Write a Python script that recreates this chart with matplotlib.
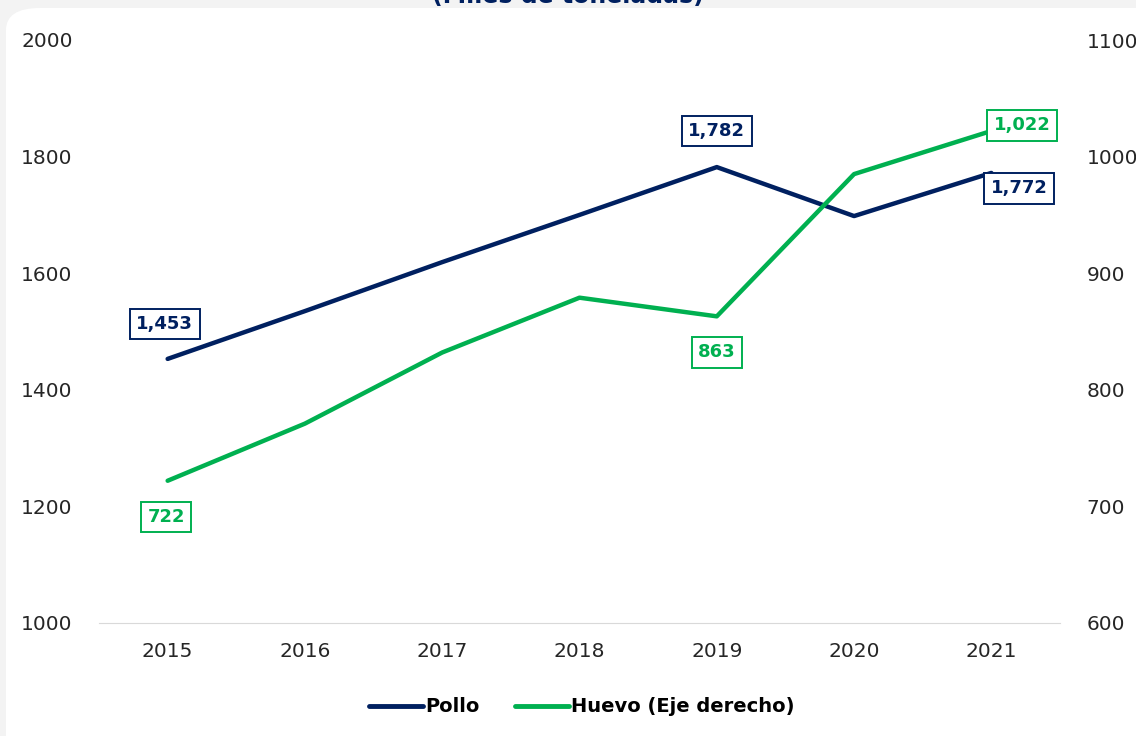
import matplotlib
matplotlib.use("Agg")
import matplotlib.pyplot as plt
from matplotlib.patches import FancyBboxPatch
from matplotlib.lines import Line2D

years = ["2015", "2016", "2017", "2018", "2019", "2020", "2021"]
pollo = [1453, 1535, 1619, 1700, 1782, 1698, 1772]
huevo = [722, 771, 832, 879, 863, 985, 1022]

navy = "#002060"
green = "#00B050"

plt.rcParams["font.family"] = ["DejaVu Sans"]

fig = plt.figure(figsize=(11.36, 7.36), dpi=100)
fig.patch.set_facecolor("#f3f3f3")

# white rounded panel behind everything
panel = FancyBboxPatch((6 / 1136, -0.05), 1.2, 1 - 8 / 736 + 0.05,
                       boxstyle="round,pad=0,rounding_size=0.03",
                       transform=fig.transFigure, facecolor="white",
                       edgecolor="none", zorder=-10)
fig.patches.append(panel)

fig.text(0.5, 1 - 3 / 736, "(Miles de toneladas)", ha="center", va="baseline",
         fontsize=17, fontweight="bold", color=navy)

ax = fig.add_axes([99 / 1136, 1 - 623 / 736, 961 / 1136, 583 / 736])
ax.patch.set_alpha(0)
ax2 = ax.twinx()
ax2.patch.set_alpha(0)

x = list(range(len(years)))
ax.plot(x, pollo, color=navy, lw=3.2, solid_capstyle="round", zorder=3)
ax2.plot(x, huevo, color=green, lw=3.2, solid_capstyle="round", zorder=3)

ax.set_xlim(-0.5, 6.5)
ax.set_ylim(1000, 2000)
ax2.set_ylim(600, 1100)
ax.set_yticks([1000, 1200, 1400, 1600, 1800, 2000])
ax2.set_yticks([600, 700, 800, 900, 1000, 1100])
ax.set_xticks(x)
ax.set_xticklabels(years)

for a in (ax, ax2):
    for s in a.spines.values():
        s.set_visible(False)
    a.tick_params(length=0, labelsize=14.5, colors="#262626")
ax.spines["bottom"].set_visible(True)
ax.spines["bottom"].set_color("#d9d9d9")
ax.tick_params(axis="x", pad=14)
ax.tick_params(axis="y", pad=56)
ax2.tick_params(axis="y", pad=19)
for lbl in ax.get_yticklabels():
    lbl.set_horizontalalignment("left")

def box(a, i, v, dx, dy, col):
    a.annotate(f"{v:,}", (i, v), xytext=(dx, dy), textcoords="offset points",
               ha="center", va="center", fontsize=13, fontweight="bold",
               color=col, zorder=5,
               bbox=dict(boxstyle="square,pad=0.35", fc="white", ec=col, lw=1.4))

box(ax, 0, pollo[0], -2, 25, navy)
box(ax, 4, pollo[4], 0, 26, navy)
box(ax, 6, pollo[6], 20, -11, navy)
box(ax2, 0, huevo[0], -1, -26, green)
box(ax2, 4, huevo[4], 0, -26, green)
box(ax2, 6, huevo[6], 22, 4, green)

handles = [Line2D([], [], color=navy, lw=3.5, solid_capstyle="round"),
           Line2D([], [], color=green, lw=3.5, solid_capstyle="round")]
fig.legend(handles, ["Pollo", "Huevo (Eje derecho)"], loc="center",
           bbox_to_anchor=(0.512, 1 - 707 / 736), ncol=2, frameon=False,
           handlelength=2.8, handletextpad=0.1, columnspacing=1.8,
           prop={"weight": "bold", "size": 14})

fig.savefig("out.png", dpi=100, facecolor=fig.get_facecolor())
